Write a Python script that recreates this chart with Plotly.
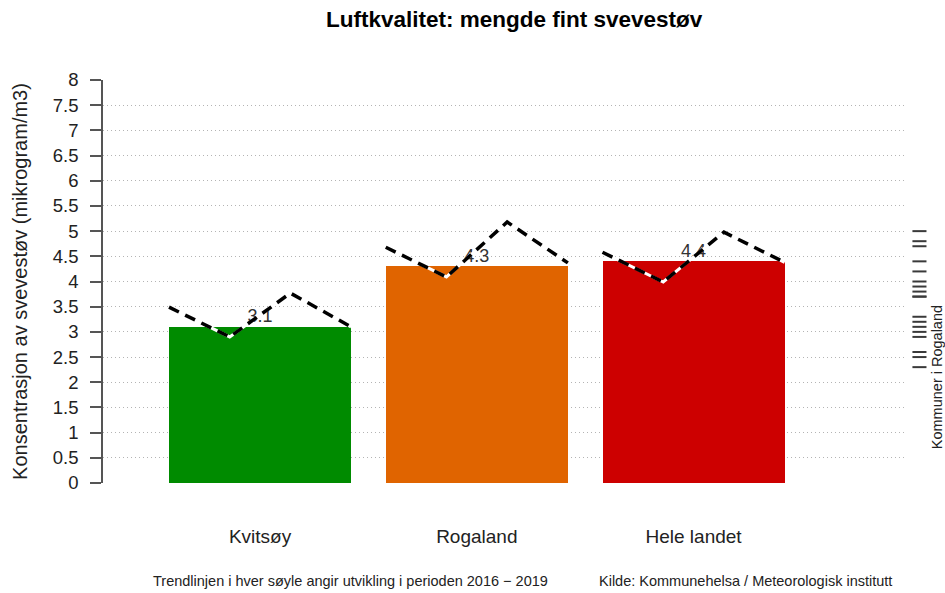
import numpy as np
import plotly.graph_objects as go

# --- data -------------------------------------------------------------------
categories = ["Kvitsøy", "Rogaland", "Hele landet"]
values = [3.1, 4.3, 4.4]
bar_colors = ["#008B00", "#E06400", "#CD0000"]

# trend 2016-2019 for each bar
trend_years = [2016, 2017, 2018, 2019]
trend_kvitsoy = [3.49, 2.9, 3.77, 3.1]
trend_rogaland = [4.68, 4.09, 5.18, 4.37]
trend_landet = [4.58, 3.99, 4.98, 4.38]
trends = [trend_kvitsoy, trend_rogaland, trend_landet]

# municipalities in Rogaland (rug on the right)
kommuner = [5.0, 4.8, 4.7, 4.4, 4.2, 4.0, 3.9, 3.8, 3.7, 3.7,
            3.3, 3.2, 3.1, 3.0, 2.9, 2.6, 2.5, 2.3]

y_ticks = [i * 0.5 for i in range(17)]

title = "Luftkvalitet: mengde fint svevestøv"
y_title = "Konsentrasjon av svevestøv (mikrogram/m3)"
note_left = "Trendlinjen i hver søyle angir utvikling i perioden 2016 \u2212 2019"
note_right = "Kilde: Kommunehelsa / Meteorologisk institutt"
rug_label = "Kommuner i Rogaland"

FONT = "Liberation Sans, Arial, sans-serif"
BAR_W = 0.84
xpos = np.arange(1, len(categories) + 1)

fig = go.Figure()

fig.add_trace(go.Bar(x=xpos, y=values, width=BAR_W,
    marker=dict(color=bar_colors, line=dict(width=0)), showlegend=False))

fig.add_trace(go.Scatter(x=xpos, y=values, mode="text",
    text=[f"{v:.1f}" for v in values], textposition="top center",
    textfont=dict(size=18, color="#333333", family=FONT), showlegend=False))

# trend lines: white underlay + black dashes, spread across each bar
for xc, tr in zip(xpos, trends):
    tx = np.linspace(xc - BAR_W / 2, xc + BAR_W / 2, len(trend_years))
    fig.add_trace(go.Scatter(x=tx, y=tr, mode="lines",
        line=dict(color="white", width=3), showlegend=False, hoverinfo="skip"))
    fig.add_trace(go.Scatter(x=tx, y=tr, mode="lines",
        line=dict(color="black", width=3.5, dash="11px,7px"), showlegend=False))

# rug for municipalities
for k in kommuner:
    fig.add_shape(type="line", xref="paper", yref="y",
        x0=1.008, x1=1.0255, y0=k, y1=k,
        line=dict(color="#3a3a3a", width=2))

fig.add_annotation(text=rug_label, xref="paper", yref="y",
    x=1.0386, y=2.1, xanchor="center", yanchor="middle", textangle=-90,
    showarrow=False, font=dict(size=14.5, color="#222222", family=FONT))

fig.add_annotation(text="<b>" + title + "</b>", xref="paper", yref="paper",
    x=(514 - 103) / 803, y=1, yshift=61, xanchor="center", yanchor="middle",
    showarrow=False, font=dict(size=22.5, color="black", family=FONT))

fig.add_annotation(text=note_left, xref="paper", yref="paper",
    x=(350 - 103) / 803, y=0, yshift=-98, xanchor="center", yanchor="middle",
    showarrow=False, font=dict(size=14.5, color="#222222", family=FONT))
fig.add_annotation(text=note_right, xref="paper", yref="paper",
    x=(745 - 103) / 803, y=0, yshift=-98, xanchor="center", yanchor="middle",
    showarrow=False, font=dict(size=14.5, color="#222222", family=FONT))

fig.update_layout(
    width=945, height=593,
    margin=dict(l=103, r=39, t=80, b=110),
    plot_bgcolor="white", paper_bgcolor="white",
    font=dict(family=FONT, size=19, color="#222222"),
    bargap=0,
)
fig.update_xaxes(range=[0.2755, 3.98], tickvals=list(xpos), ticktext=categories,
    showgrid=False, zeroline=False, showline=False, ticks="",
    ticklabelstandoff=40, tickfont=dict(size=19))
fig.update_yaxes(range=[0, 8], tickvals=y_ticks,
    ticktext=[f"{t:g}" for t in y_ticks],
    showgrid=True, gridcolor="#b4b4b4", griddash="1px,3px", gridwidth=1,
    zeroline=False, showline=True, linecolor="#555555", linewidth=1.5,
    ticks="outside", ticklen=11, tickcolor="#555555", tickwidth=1.5,
    ticklabelstandoff=8, tickfont=dict(size=18.5),
    title=dict(text=y_title, font=dict(size=20), standoff=20))

# drop the default page margin so the figure sits at the window corner
fig.write_html("out.html", config={"displayModeBar": False},
               post_script="document.body.style.margin='0';")
